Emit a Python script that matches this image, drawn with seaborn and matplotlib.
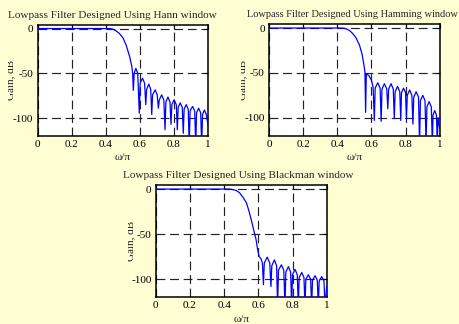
import numpy as np
import pandas as pd
import matplotlib
matplotlib.use("Agg")
import matplotlib.pyplot as plt
import seaborn as sns
from matplotlib.transforms import Bbox, TransformedBbox

# magnitude responses (w/pi, gain in dB)
hann_w = [0.0, 0.42, 0.44, 0.46, 0.48, 0.50, 0.52, 0.54, 0.553, 0.558, 0.562,
          0.567, 0.577, 0.588, 0.597,
          0.602, 0.616, 0.628, 0.635,
          0.640, 0.653, 0.664, 0.670,
          0.675, 0.690, 0.702, 0.709,
          0.714, 0.728, 0.741, 0.748,
          0.753, 0.765, 0.777, 0.783,
          0.788, 0.801, 0.814, 0.820,
          0.825, 0.837, 0.849, 0.855,
          0.860, 0.872, 0.884, 0.890,
          0.895, 0.909, 0.922, 0.928,
          0.933, 0.945, 0.957, 0.963,
          0.968, 0.979, 0.990, 1.0]
hann_db = [0, 0, -0.5, -2.5, -5.5, -10, -18.5, -31, -42, -50, -69,
           -50, -44.5, -50, -94.5,
           -61, -55.5, -61, -85,
           -68, -62, -68, -96,
           -74, -68.5, -74, -89,
           -80, -74, -80, -113,
           -82, -76.5, -82, -107,
           -85, -79.5, -85, -113,
           -88, -83, -88, -117,
           -90, -85, -90, -130,
           -92, -87, -92, -130,
           -94, -89, -94, -130,
           -96, -91, -96, -108]

hamming_w = [0.0, 0.43, 0.45, 0.47, 0.49, 0.51, 0.53, 0.545, 0.555, 0.562, 0.566,
             0.570, 0.585, 0.600, 0.610, 0.617,
             0.622, 0.637, 0.651, 0.657,
             0.662, 0.676, 0.690, 0.696,
             0.701, 0.715, 0.728, 0.734,
             0.739, 0.753, 0.766, 0.772,
             0.776, 0.788, 0.800, 0.805,
             0.810, 0.824, 0.837, 0.843,
             0.848, 0.862, 0.876, 0.882,
             0.887, 0.901, 0.914, 0.920,
             0.925, 0.938, 0.951, 0.957,
             0.961, 0.971, 0.981, 0.986,
             0.990, 1.0]
hamming_db = [0, 0, -0.7, -2.5, -6, -11, -19, -29, -40, -49, -94,
              -51, -53, -58, -66, -103,
              -67, -61, -67, -104,
              -68, -62, -68, -90,
              -68, -62, -68, -101,
              -71, -65, -71, -103,
              -72, -67, -72, -101,
              -75, -69, -75, -107,
              -77, -71, -77, -130,
              -81, -75, -81, -130,
              -88, -82, -88, -130,
              -97, -92, -97, -130,
              -100, -112]

blackman_w = [0.0, 0.43, 0.45, 0.47, 0.49, 0.51, 0.53, 0.545, 0.56, 0.575, 0.587,
              0.595, 0.605, 0.615, 0.624, 0.630,
              0.635, 0.652, 0.667, 0.674,
              0.679, 0.694, 0.707, 0.713,
              0.718, 0.735, 0.749, 0.756,
              0.761, 0.776, 0.789, 0.795,
              0.800, 0.815, 0.828, 0.834,
              0.839, 0.854, 0.867, 0.873,
              0.878, 0.893, 0.906, 0.912,
              0.917, 0.932, 0.945, 0.951,
              0.956, 0.971, 0.984, 0.990, 1.0]
blackman_db = [0, 0, -0.5, -1.5, -4, -9, -15, -24, -35, -47, -56,
               -66, -75, -77, -82, -106,
               -82, -75.5, -82, -108,
               -85, -78.5, -85, -130,
               -90, -84, -90, -130,
               -92, -86, -92, -130,
               -95, -89, -95, -130,
               -98, -92.5, -98, -130,
               -100, -95, -100, -130,
               -101, -96, -101, -130,
               -102, -97, -102, -130, -108]

titles = ["Lowpass Filter Designed Using Hann window",
          "Lowpass Filter Designed Using Hamming window",
          "Lowpass Filter Designed Using Blackman window"]
x_ticks = [0, 0.2, 0.4, 0.6, 0.8, 1]
x_tick_labels = ["0", "0.2", "0.4", "0.6", "0.8", "1"]
y_ticks = [-100, -50, 0]
y_tick_labels = ["-100", "-50", "0"]

BG = "#fffdd2"
W, H = 459, 324

sns.set_style("white")
plt.rcParams["font.family"] = ["Liberation Serif", "DejaVu Serif"]
plt.rcParams["axes.unicode_minus"] = False
plt.rcParams["font.size"] = 8

fig = plt.figure(figsize=(W / 100, H / 100), dpi=100, facecolor=BG)

# pixel boxes (left, top, right, bottom) measured on the reference
boxes = [(37.5, 24.5, 208, 136), (269, 24, 439.7, 135.7), (155.7, 185, 326.7, 297.3)]
title_x = [0.442, 0.489, 0.485]
title_size = [8.1, 7.5, 8.1]
ylab_right = [15.0, 247.5, 135.0]
ylab_clip = [8.0, 240.5, 128.0]
curves = [(hann_w, hann_db), (hamming_w, hamming_db), (blackman_w, blackman_db)]

for i in range(3):
    l, t, r, b = boxes[i]
    ax = fig.add_axes([l / W, 1 - b / H, (r - l) / W, (b - t) / H])
    ax.set_facecolor("white")
    df = pd.DataFrame({"w": curves[i][0], "db": curves[i][1]})
    sns.lineplot(data=df, x="w", y="db", ax=ax, color="#0000ff", linewidth=0.9,
                 estimator=None, sort=False, zorder=3)
    ax.set_xlim(0, 1)
    ax.set_ylim(-120, 4.5)
    ax.set_xticks(x_ticks)
    ax.set_xticklabels(x_tick_labels)
    ax.set_yticks(y_ticks)
    ax.set_yticklabels(y_tick_labels)
    ax.tick_params(direction="in", length=3, width=0.8, top=True, right=True,
                   labelsize=8, pad=3, colors="black")
    ax.grid(True, color="#222222", linestyle=(0, (7.5, 4)), linewidth=0.85, zorder=1)
    ax.set_axisbelow(True)
    for s in ax.spines.values():
        s.set_linewidth(1.1)
        s.set_color("black")
    ax.set_title(titles[i], fontsize=title_size[i], x=title_x[i], pad=5)
    ax.set_xlabel("ω/π", fontsize=8, labelpad=3)
    ax.set_ylabel("Gain, dB", fontsize=8)
    ax.yaxis.set_label_coords((ylab_right[i] - l) / (r - l), 0.5)
    lab = ax.yaxis.label
    lab.set_clip_box(TransformedBbox(Bbox.from_extents(ylab_clip[i] / W, 0, 1, 1),
                                     fig.transFigure))
    lab.set_clip_on(True)

fig.savefig("out.png", dpi=100, facecolor=BG)
